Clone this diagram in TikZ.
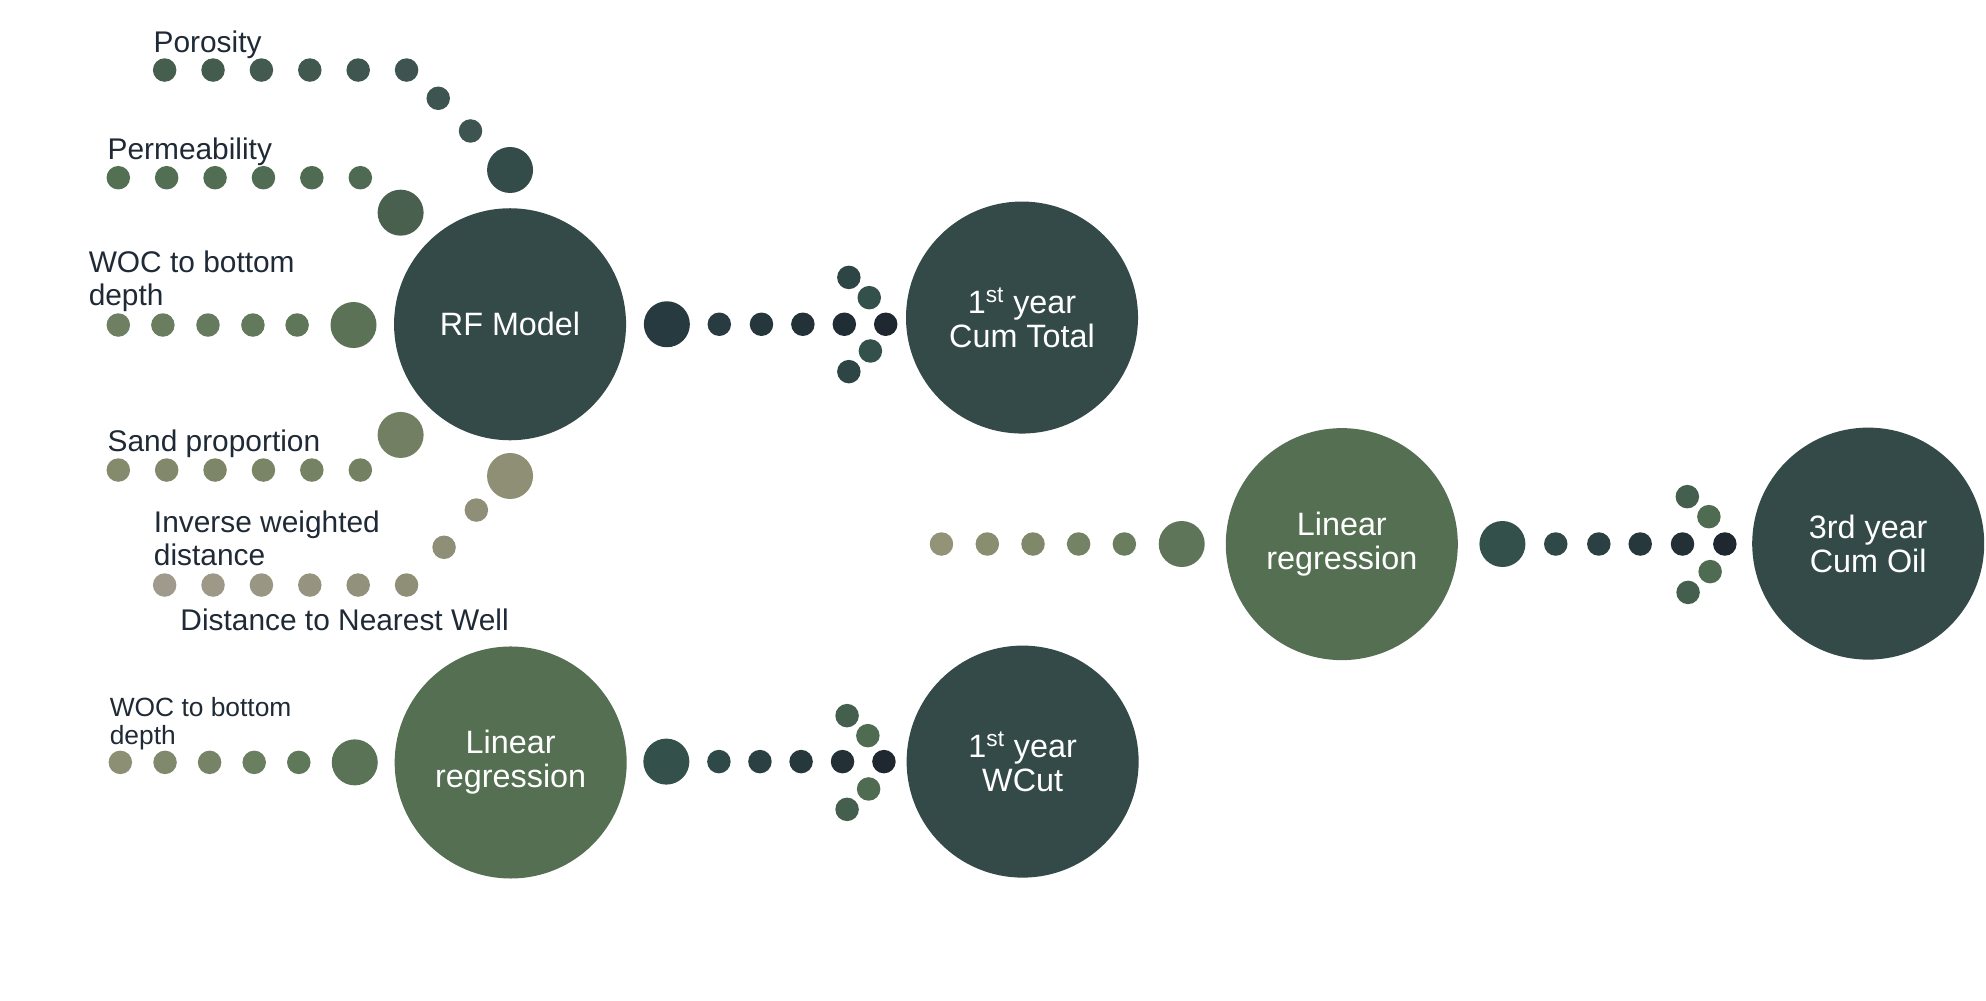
\documentclass[tikz,border=0pt]{standalone}
\usepackage{fontspec}
\setmainfont{Liberation Sans}
\definecolor{deep}{HTML}{334A48}
\definecolor{leaf}{HTML}{546F52}
\definecolor{ink}{HTML}{1F2A36}
\definecolor{porA}{HTML}{465E4E}
\definecolor{porB}{HTML}{3D5450}
\definecolor{porK}{HTML}{344C49}
\definecolor{perA}{HTML}{537053}
\definecolor{perB}{HTML}{4E6A52}
\definecolor{perK}{HTML}{4A604F}
\definecolor{wocA}{HTML}{6E8061}
\definecolor{wocB}{HTML}{5F7659}
\definecolor{wocK}{HTML}{5B7256}
\definecolor{sanA}{HTML}{848B6C}
\definecolor{sanB}{HTML}{738161}
\definecolor{sanK}{HTML}{737F63}
\definecolor{invA}{HTML}{A09A8C}
\definecolor{invB}{HTML}{8F8F77}
\definecolor{invK}{HTML}{8E8F74}
\definecolor{rfoA}{HTML}{283B41}
\definecolor{rfoK}{HTML}{273A40}
\definecolor{outA}{HTML}{2F4848}
\definecolor{outB}{HTML}{1F2830}
\definecolor{outK}{HTML}{34504B}
\definecolor{tipA}{HTML}{2E4546}
\definecolor{tipB}{HTML}{34504B}
\definecolor{tipC}{HTML}{445F4E}
\definecolor{tipD}{HTML}{4F6B51}
\definecolor{botA}{HTML}{8C8F74}
\definecolor{botB}{HTML}{5F7859}
\definecolor{botK}{HTML}{5A7357}
\definecolor{rgtA}{HTML}{939477}
\definecolor{rgtB}{HTML}{6A7D5F}
\definecolor{rgtK}{HTML}{5F7559}
\begin{document}
\begin{tikzpicture}[x=0.02533cm,y=-0.02533cm,
  model/.style={circle,inner sep=0pt,minimum size=4.64cm,text=white,align=center,
    font=\fontsize{18.4}{19.5}\selectfont},
  knob/.style={circle,inner sep=0pt,minimum size=0.92cm},
  bead/.style={circle,inner sep=0pt,minimum size=0.47cm},
  lbl/.style={anchor=base west,align=left,inner sep=0pt,text=ink,
    font=\fontsize{17}{18.7}\selectfont}]
\useasboundingbox (0,0) rectangle (1568,790);

\node[lbl] (tporo) at (121,41.6) {Porosity};
\foreach \x/\p [count=\i] in {130/100,168.2/80,206.4/60,244.6/40,282.8/20,321/0}
  \node[bead,fill=porA!\p!porB] (por\i) at (\x,55.3) {};
\node[bead,fill=porB] (por7) at (346,77.6) {};
\node[bead,fill=porB] (por8) at (371.5,103.4) {};
\node[knob,fill=porK] (por9) at (402.7,134.2) {};

\node[lbl] (tperm) at (84.7,125.8) {Permeability};
\foreach \x/\p [count=\i] in {93.4/100,131.6/80,169.8/60,208/40,246.2/20,284.5/0}
  \node[bead,fill=perA!\p!perB] (per\i) at (\x,140.3) {};
\node[knob,fill=perK] (per7) at (316.3,167.9) {};

\node[lbl] (twoc) at (69.8,240.8) {WOC to bottom\\depth};
\foreach \x/\p [count=\i] in {93.4/100,128.6/75,164.2/50,199.7/25,234.6/0}
  \node[bead,fill=wocA!\p!wocB] (woc\i) at (\x,256.6) {};
\node[knob,fill=wocK] (woc6) at (279.1,256.6) {};

\node[lbl] (tsand) at (84.7,356.6) {Sand proportion};
\foreach \x/\p [count=\i] in {93.4/100,131.6/80,169.8/60,208/40,246.2/20,284.5/0}
  \node[bead,fill=sanA!\p!sanB] (san\i) at (\x,371.1) {};
\node[knob,fill=sanK] (san7) at (316.3,343.4) {};

\node[lbl] (tinv) at (121.3,446.6) {Inverse weighted\\distance};
\foreach \x/\p [count=\i] in {130/100,168.2/80,206.4/60,244.6/40,282.8/20,321/0}
  \node[bead,fill=invA!\p!invB] (inv\i) at (\x,461.9) {};
\node[bead,fill=invB] (inv7) at (350.6,432.1) {};
\node[bead,fill=invB] (inv8) at (376.1,402.7) {};
\node[knob,fill=invK] (inv9) at (402.7,375.8) {};

\node[lbl] (tdist) at (142.2,497.4) {Distance to Nearest Well};

\node[model,fill=deep] (rf) at (402.7,256) {RF Model};
\node[knob,fill=rfoK] (rfo0) at (526.5,256) {};
\foreach \x/\p [count=\i] in {567.9/100,601.2/75,633.9/50,666.6/25,699.3/0}
  \node[bead,fill=rfoA!\p!outB] (rfo\i) at (\x,256) {};
\node[bead,fill=tipA] (rfo6) at (670.2,219) {};
\node[bead,fill=tipB] (rfo7) at (686.3,235) {};
\node[bead,fill=tipB] (rfo8) at (687.2,277.1) {};
\node[bead,fill=tipA] (rfo9) at (670.2,293.4) {};
\node[model,fill=deep] (cumtot) at (806.9,250.7) {1\textsuperscript{st} year\\Cum Total};

\node[lbl,font=\fontsize{15}{15.7}\selectfont] (twoc2) at (86.4,587.7) {WOC to bottom\\depth};
\foreach \x/\p [count=\i] in {95/100,130.3/75,165.5/50,200.7/25,235.9/0}
  \node[bead,fill=botA!\p!botB] (bot\i) at (\x,601.9) {};
\node[knob,fill=botK] (bot6) at (280.1,601.9) {};
\node[model,fill=leaf] (lrwc) at (403.2,602) {Linear\\regression};
\node[knob,fill=outK] (wco0) at (526.1,601.3) {};
\foreach \x/\p [count=\i] in {567.6/100,600/75,632.5/50,665.2/25,697.9/0}
  \node[bead,fill=outA!\p!outB] (wco\i) at (\x,601.3) {};
\node[bead,fill=tipC] (wco6) at (668.8,565) {};
\node[bead,fill=tipD] (wco7) at (685.2,580.8) {};
\node[bead,fill=tipD] (wco8) at (685.8,622.9) {};
\node[bead,fill=tipC] (wco9) at (668.8,639) {};
\node[model,fill=deep] (wcut) at (807.4,601.3) {1\textsuperscript{st} year\\WCut};

\foreach \x/\p [count=\i] in {743.3/100,779.5/75,815.6/50,851.6/25,887.7/0}
  \node[bead,fill=rgtA!\p!rgtB] (rgt\i) at (\x,429.5) {};
\node[knob,fill=rgtK] (rgt6) at (933,429.5) {};
\node[model,fill=leaf] (lroil) at (1059.4,429.6) {Linear\\regression};
\node[knob,fill=outK] (oil0) at (1186.2,429.5) {};
\foreach \x/\p [count=\i] in {1228.3/100,1262.3/75,1295/50,1328.4/25,1361.8/0}
  \node[bead,fill=outA!\p!outB] (oil\i) at (\x,429.5) {};
\node[bead,fill=tipC] (oil6) at (1332.2,392.1) {};
\node[bead,fill=tipD] (oil7) at (1349.2,407.9) {};
\node[bead,fill=tipD] (oil8) at (1350.2,451.3) {};
\node[bead,fill=tipC] (oil9) at (1332.8,467.7) {};
\node[model,fill=deep] (cumoil) at (1475,429.2) {3rd year\\Cum Oil};
\end{tikzpicture}
\end{document}
